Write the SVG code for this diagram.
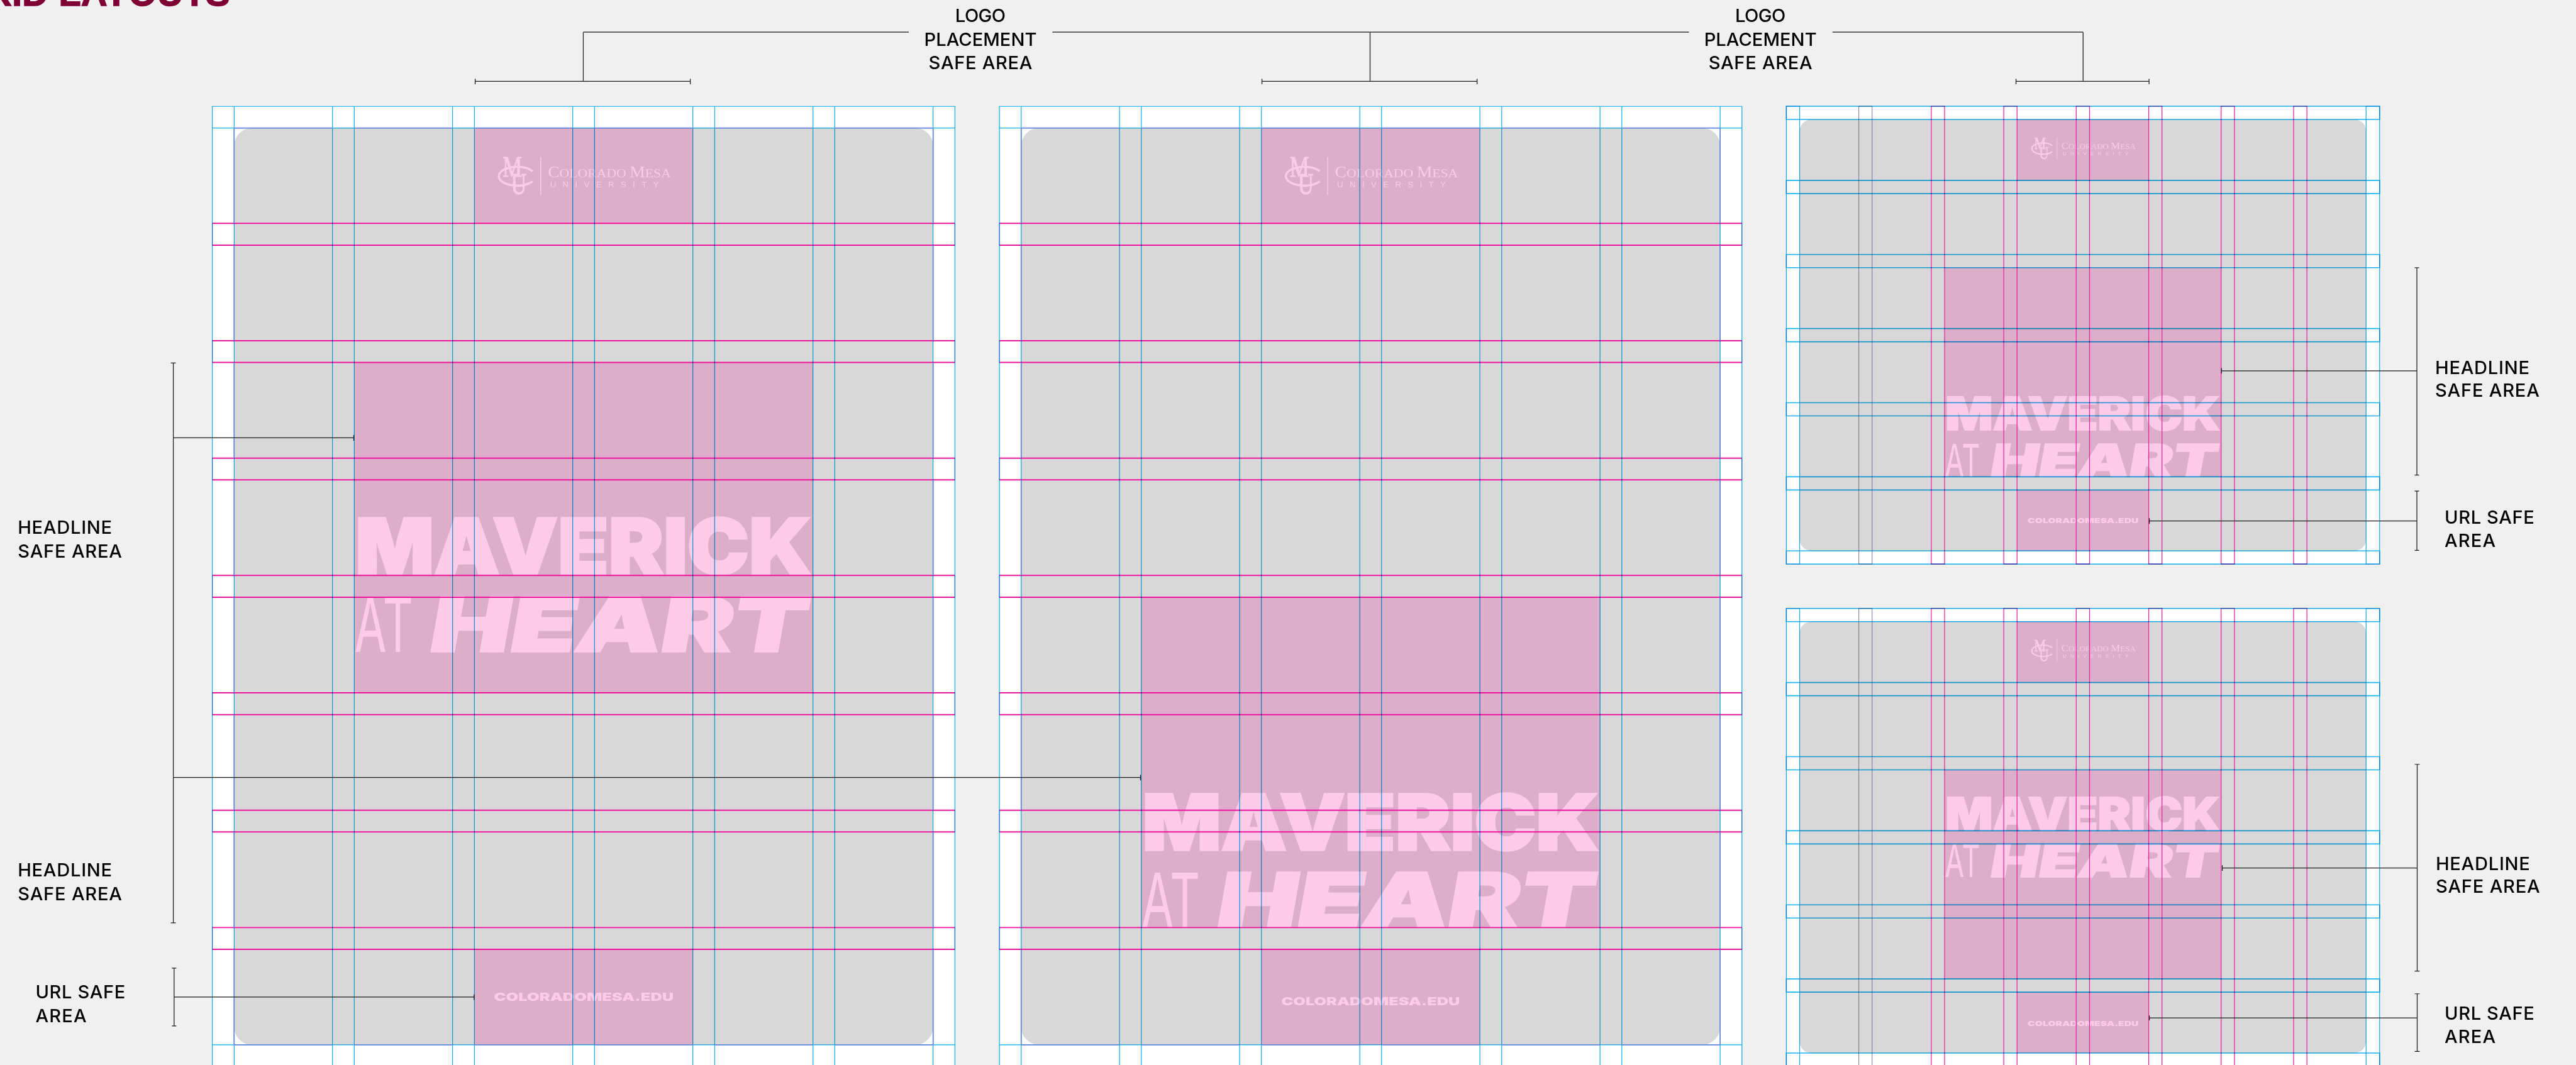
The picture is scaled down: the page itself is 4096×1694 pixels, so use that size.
<svg xmlns="http://www.w3.org/2000/svg" xmlns:xlink="http://www.w3.org/1999/xlink" width="4096" height="1694" viewBox="0 0 4096 1694">
<style>
.bg{fill:#f0f0f0}
.sheet{fill:#fff}
.gray{fill:#d8d8d8}
.safe{fill:#dcaec9}
.gl{fill:none;mix-blend-mode:multiply}
.cy{stroke:#00aeef;stroke-width:1.3}
.cyh{stroke:#14b4f0;stroke-width:1.8}
.pk{fill:none;stroke:#f0129a;stroke-width:2.2}
.si{fill:none;stroke:#9a8ed8;stroke-width:1.2}
.pkv{fill:none;stroke:#ea1fa0;stroke-width:1.4}
.gv{fill:none;stroke:#77709c;stroke-width:1.1}
.vi{fill:none;stroke:#6f88dc;stroke-width:2}
.lab{font-family:Inter,"Liberation Sans",sans-serif;font-size:33px;font-weight:500;fill:#000}
.ttl{font-family:"Liberation Sans",Arial,sans-serif;font-size:66px;font-weight:700;fill:#7f0034;stroke:#7f0034;stroke-width:1.5}
.hw{font-family:Inter,"Liberation Sans",sans-serif;font-size:138px;font-weight:900;fill:#fbcbe8;stroke:#fbcbe8;stroke-width:4}
.ha{font-family:Inter,"Liberation Sans",sans-serif;font-size:135px;font-weight:400;fill:#fbcbe8}
.url{font-family:Inter,"Liberation Sans",sans-serif;font-weight:900;fill:#fbcbe8}
.lg{font-family:"Liberation Serif",serif;fill:#f8cce6}
.lgb{font-family:"Liberation Serif",serif;fill:#f8cce6;stroke:#f8cce6;stroke-width:1.2}
.lu{font-family:"Liberation Sans",sans-serif;font-size:15px;fill:#f8cce6}
.lgs{fill:none;stroke:#f8cce6}
.cn{fill:none;stroke:#1c1c1c;stroke-width:1.4}
.cnt{fill:none;stroke:#555;stroke-width:2}
</style>
<defs>
<path id="aH" d="M0 403H1339.2 M0 442.3H1339.2 M0 614.75H1339.2 M0 654H1339.2 M0 826.5H1339.2 M0 865.8H1339.2 M0 1038.25H1339.2 M0 1077.5H1339.2 M0 1250H1339.2 M0 1289.3H1339.2 M0 1461.75H1339.2 M0 1501H1339.2 M0 1673.5H1339.2 M0 1712.8H1339.2"/>
<path id="aS" d="M0 403v39.3 M0 614.75v39.3 M0 826.5v39.3 M0 1038.25v39.3 M0 1250v39.3 M0 1461.75v39.3 M0 1673.5v39.3 M1339.2 403v39.3 M1339.2 614.75v39.3 M1339.2 826.5v39.3 M1339.2 1038.25v39.3 M1339.2 1250v39.3 M1339.2 1461.75v39.3 M1339.2 1673.5v39.3"/>
<path id="aV" d="M0 192h39.3V1930H0z M216.65 192h39.3V1930h-39.3z M433.3 192h39.3V1930h-39.3z M649.95 192h39.3V1930h-39.3z M866.6 192h39.3V1930h-39.3z M1083.25 192h39.3V1930h-39.3z M1299.9 192h39.3V1930h-39.3z M0 192H1339.2 M0 231H1339.2 M0 1885H1339.2"/>
<path id="aC" d="M39.3 231H216.65 M255.95 231H433.3 M472.6 231H649.95 M689.25 231H866.6 M905.9 231H1083.25 M1122.55 231H1299.9 M39.3 1885H216.65 M255.95 1885H433.3 M472.6 1885H649.95 M689.25 1885H866.6 M905.9 1885H1083.25 M1122.55 1885H1299.9 M39.3 231V403 M39.3 442.3V614.75 M39.3 654V826.5 M39.3 865.8V1038.25 M39.3 1077.5V1250 M39.3 1289.3V1461.75 M39.3 1501V1673.5 M39.3 1712.8V1885 M1299.9 231V403 M1299.9 442.3V614.75 M1299.9 654V826.5 M1299.9 865.8V1038.25 M1299.9 1077.5V1250 M1299.9 1289.3V1461.75 M1299.9 1501V1673.5 M1299.9 1712.8V1885"/>
<path id="bP" d="M261.4 0h24V826h-24z M392.1 0h24V826h-24z M522.8 0h24V826h-24z M653.5 0h24V826h-24z M784.2 0h24V826h-24z M914.9 0h24V826h-24z"/>
<path id="bG" d="M130.7 0h24V826h-24z"/>
<path id="bC" d="M0 0h24V826H0z M1045.6 0h24.4V826h-24.4z"/>
<path id="bH" d="M0 0h1070v23.8H0z M0 133.7h1070v23.8H0z M0 267.4h1070v23.8H0z M0 401.1h1070v23.8H0z M0 534.8h1070v23.8H0z M0 668.5h1070v23.8H0z M0 802.2h1070v23.8H0z"/>
</defs>
<rect class="bg" width="4096" height="1694"/>
<g transform="scale(0.88162)">
<text id="title" class="ttl" x="415" y="10" text-anchor="end">GRID LAYOUTS</text>

<g id="panel-1">
<rect class="sheet" x="383" y="192" width="1339.2" height="1740"/>
<rect class="gray" x="422.3" y="231" width="1260.6" height="1654" rx="32"/>
<rect class="safe" x="855.6" y="231" width="394" height="172"/>
<rect class="safe" x="638.9" y="653.8" width="827.4" height="596.2"/>
<rect class="safe" x="855.6" y="1712.8" width="394" height="172.2"/>
<g id="logo-1" transform="translate(855.6,231)">
<text class="lgb" x="51" y="88" font-size="52" textLength="35" lengthAdjust="spacingAndGlyphs">M</text>
<text class="lgb" x="66" y="119" font-size="56" textLength="28" lengthAdjust="spacingAndGlyphs">U</text>
<path class="lgs" stroke-width="4" d="M105 78A33 17 0 1 0 105 96"/>
<path class="lgs" stroke-width="1.6" d="M119.5 52V121"/>
<text class="lg" x="132.5" y="89" font-size="22" textLength="222" lengthAdjust="spacingAndGlyphs"><tspan font-size="28">C</tspan>OLORADO <tspan font-size="28">M</tspan>ESA</text>
<text class="lu" x="136.5" y="107" textLength="196">UNIVERSITY</text>
</g>
<g id="headline-1" transform="translate(638.9,1037)">
<text class="hw" x="2" y="-1" textLength="823" lengthAdjust="spacingAndGlyphs">MAVERICK</text>
<text class="ha" x="0" y="139" textLength="106" lengthAdjust="spacingAndGlyphs">AT</text>
<text class="hw" transform="translate(131.5,138) skewX(-10)" style="font-size:134px" textLength="678" lengthAdjust="spacingAndGlyphs">HEART</text>
</g>
<text id="url-1" class="url" x="891" y="1806" font-size="20" textLength="324" lengthAdjust="spacingAndGlyphs">COLORADOMESA.EDU</text>
<use href="#aH" xlink:href="#aH" class="pk" x="383"/>
<use href="#aS" xlink:href="#aS" class="si" x="383"/>
<use href="#aV" xlink:href="#aV" class="gl cy" x="383"/>
<use href="#aC" xlink:href="#aC" class="vi" x="383"/>
</g>

<g id="panel-2">
<rect class="sheet" x="1802.5" y="192" width="1339.2" height="1740"/>
<rect class="gray" x="1841.8" y="231" width="1260.6" height="1654" rx="32"/>
<rect class="safe" x="2275.1" y="231" width="394" height="172"/>
<rect class="safe" x="2058.4" y="1077.5" width="827.4" height="596"/>
<rect class="safe" x="2275.1" y="1712.8" width="394" height="172.2"/>
<g id="logo-2" transform="translate(2275.1,231)">
<text class="lgb" x="51" y="88" font-size="52" textLength="35" lengthAdjust="spacingAndGlyphs">M</text>
<text class="lgb" x="66" y="119" font-size="56" textLength="28" lengthAdjust="spacingAndGlyphs">U</text>
<path class="lgs" stroke-width="4" d="M105 78A33 17 0 1 0 105 96"/>
<path class="lgs" stroke-width="1.6" d="M119.5 52V121"/>
<text class="lg" x="132.5" y="89" font-size="22" textLength="222" lengthAdjust="spacingAndGlyphs"><tspan font-size="28">C</tspan>OLORADO <tspan font-size="28">M</tspan>ESA</text>
<text class="lu" x="136.5" y="107" textLength="196">UNIVERSITY</text>
</g>
<g id="headline-2" transform="translate(2058.4,1534)">
<text class="hw" x="2" y="-1" textLength="823" lengthAdjust="spacingAndGlyphs">MAVERICK</text>
<text class="ha" x="0" y="139" textLength="106" lengthAdjust="spacingAndGlyphs">AT</text>
<text class="hw" transform="translate(131.5,138) skewX(-10)" style="font-size:134px" textLength="678" lengthAdjust="spacingAndGlyphs">HEART</text>
</g>
<text id="url-2" class="url" x="2311" y="1814" font-size="20" textLength="322" lengthAdjust="spacingAndGlyphs">COLORADOMESA.EDU</text>
<use href="#aH" xlink:href="#aH" class="pk" x="1802.5"/>
<use href="#aS" xlink:href="#aS" class="si" x="1802.5"/>
<use href="#aV" xlink:href="#aV" class="gl cy" x="1802.5"/>
<use href="#aC" xlink:href="#aC" class="vi" x="1802.5"/>
</g>

<g id="panel-3">
<rect class="sheet" x="3221.8" y="191.7" width="1070" height="826"/>
<rect class="gray" x="3245.8" y="215.5" width="1021.6" height="778.4" rx="21"/>
<rect class="safe" x="3637.9" y="215.5" width="237.9" height="109.9"/>
<rect class="safe" x="3507.4" y="483" width="498.2" height="377.2"/>
<rect class="safe" x="3637.9" y="884" width="237.9" height="109.9"/>
<g id="logo-3" transform="translate(3637.9,215.5) scale(0.604)">
<text class="lgb" x="51" y="88" font-size="52" textLength="35" lengthAdjust="spacingAndGlyphs">M</text>
<text class="lgb" x="66" y="119" font-size="56" textLength="28" lengthAdjust="spacingAndGlyphs">U</text>
<path class="lgs" stroke-width="4" d="M105 78A33 17 0 1 0 105 96"/>
<path class="lgs" stroke-width="1.6" d="M119.5 52V121"/>
<text class="lg" x="132.5" y="89" font-size="22" textLength="222" lengthAdjust="spacingAndGlyphs"><tspan font-size="28">C</tspan>OLORADO <tspan font-size="28">M</tspan>ESA</text>
<text class="lu" x="136.5" y="107" textLength="196">UNIVERSITY</text>
</g>
<g id="headline-3" transform="translate(3507.4,776) scale(0.602)">
<text class="hw" x="2" y="-1" textLength="823" lengthAdjust="spacingAndGlyphs">MAVERICK</text>
<text class="ha" x="0" y="139.5" textLength="106" lengthAdjust="spacingAndGlyphs">AT</text>
<text class="hw" transform="translate(131.5,138.5) skewX(-10)" style="font-size:134px" textLength="678" lengthAdjust="spacingAndGlyphs">HEART</text>
</g>
<text id="url-3" class="url" x="3657" y="944" font-size="12.5" textLength="200" lengthAdjust="spacingAndGlyphs">COLORADOMESA.EDU</text>
<g transform="translate(3221.8,191.7)">
<use href="#bG" xlink:href="#bG" class="gv"/>
<use href="#bP" xlink:href="#bP" class="pkv"/>
<use href="#bC" xlink:href="#bC" class="gl cy"/>
<use href="#bH" xlink:href="#bH" class="gl cyh"/>
</g>
</g>

<g id="panel-4">
<rect class="sheet" x="3221.8" y="1097.7" width="1070" height="834"/>
<rect class="gray" x="3245.8" y="1121.7" width="1021.6" height="778.2" rx="21"/>
<rect class="safe" x="3637.9" y="1121.7" width="237.9" height="109.7"/>
<rect class="safe" x="3507.4" y="1389" width="498.2" height="377.2"/>
<rect class="safe" x="3637.9" y="1790" width="237.9" height="109.9"/>
<g id="logo-4" transform="translate(3637.9,1121.7) scale(0.604)">
<text class="lgb" x="51" y="88" font-size="52" textLength="35" lengthAdjust="spacingAndGlyphs">M</text>
<text class="lgb" x="66" y="119" font-size="56" textLength="28" lengthAdjust="spacingAndGlyphs">U</text>
<path class="lgs" stroke-width="4" d="M105 78A33 17 0 1 0 105 96"/>
<path class="lgs" stroke-width="1.6" d="M119.5 52V121"/>
<text class="lg" x="132.5" y="89" font-size="22" textLength="222" lengthAdjust="spacingAndGlyphs"><tspan font-size="28">C</tspan>OLORADO <tspan font-size="28">M</tspan>ESA</text>
<text class="lu" x="136.5" y="107" textLength="196">UNIVERSITY</text>
</g>
<g id="headline-4" transform="translate(3507.4,1498.5) scale(0.602)">
<text class="hw" x="2" y="-1" textLength="823" lengthAdjust="spacingAndGlyphs">MAVERICK</text>
<text class="ha" x="0" y="139.5" textLength="106" lengthAdjust="spacingAndGlyphs">AT</text>
<text class="hw" transform="translate(131.5,138.5) skewX(-10)" style="font-size:134px" textLength="678" lengthAdjust="spacingAndGlyphs">HEART</text>
</g>
<text id="url-4" class="url" x="3657" y="1851" font-size="12.5" textLength="200" lengthAdjust="spacingAndGlyphs">COLORADOMESA.EDU</text>
<g transform="translate(3221.8,1097.7)">
<use href="#bG" xlink:href="#bG" class="gv"/>
<use href="#bP" xlink:href="#bP" class="pkv"/>
<use href="#bC" xlink:href="#bC" class="gl cy"/>
<use href="#bH" xlink:href="#bH" class="gl cyh"/>
</g>
</g>

<g id="connectors">
<path class="cnt" d="M1052 58H1639 M1898 58H3046 M3305 58H3757"/>
<path class="cn" d="M1052 58V146 M2471 58V146 M3757 58V146"/>
<path class="cn" d="M857 146.7H1245 M857 142V152 M1245 142V152 M2276 146.7H2664 M2276 142V152 M2664 142V152 M3636 146.7H3876 M3636 142V152 M3876 142V152"/>
<path class="cn" d="M312.6 655V1665 M308 655H317 M308 1665H317 M312.6 790H638 M638 785V795 M312.6 1402.7H2057 M2057 1398V1408 M314 1746.7V1851 M310 1746.7H318 M310 1851H318 M314 1798.7H855 M855 1794V1804"/>
<path class="cn" d="M4359 483V857 M4355 483H4363 M4355 857H4363 M4006.5 669H4359 M4006.5 664V674 M4359 886V993 M4355 886H4363 M4355 993H4363 M3876.5 940H4359 M3876.5 935V945"/>
<path class="cn" d="M4359.6 1379V1752 M4355 1379H4364 M4355 1752H4364 M4008 1566H4359 M4008 1561V1571 M4359.6 1793V1897 M4355 1793H4364 M4355 1897H4364 M3876.5 1836.5H4359 M3876.5 1832V1841"/>
</g>

<g id="labels">
<text class="lab" x="1768.3" y="40" text-anchor="middle" textLength="91">LOGO</text>
<text class="lab" x="1768.3" y="82.7" text-anchor="middle" textLength="203">PLACEMENT</text>
<text class="lab" x="1768.3" y="125" text-anchor="middle" textLength="187">SAFE AREA</text>
<text class="lab" x="3175" y="40" text-anchor="middle" textLength="91">LOGO</text>
<text class="lab" x="3175" y="82.7" text-anchor="middle" textLength="203">PLACEMENT</text>
<text class="lab" x="3175" y="125" text-anchor="middle" textLength="187">SAFE AREA</text>
<text class="lab" x="32" y="962.7" textLength="170">HEADLINE</text>
<text class="lab" x="32" y="1005.7" textLength="188">SAFE AREA</text>
<text class="lab" x="32" y="1581" textLength="170">HEADLINE</text>
<text class="lab" x="32" y="1624" textLength="188">SAFE AREA</text>
<text class="lab" x="64" y="1801.7" textLength="162">URL SAFE</text>
<text class="lab" x="64" y="1844" textLength="92">AREA</text>
<text class="lab" x="4392" y="675" textLength="170">HEADLINE</text>
<text class="lab" x="4392" y="716" textLength="188">SAFE AREA</text>
<text class="lab" x="4409" y="945" textLength="162">URL SAFE</text>
<text class="lab" x="4409" y="987" textLength="92">AREA</text>
<text class="lab" x="4393" y="1570" textLength="170">HEADLINE</text>
<text class="lab" x="4393" y="1611" textLength="188">SAFE AREA</text>
<text class="lab" x="4409" y="1840" textLength="162">URL SAFE</text>
<text class="lab" x="4409" y="1882" textLength="92">AREA</text>
</g>
</g>
</svg>
